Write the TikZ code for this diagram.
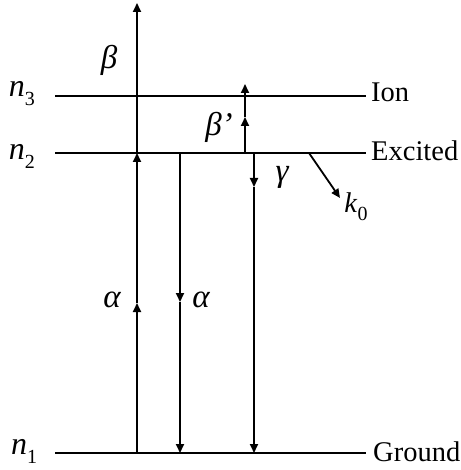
\documentclass[tikz,border=0pt]{standalone}
\usepackage{fontspec}
\setmainfont{Liberation Serif}
\usetikzlibrary{arrows.meta}
\newcommand\lvsub[1]{\raisebox{-0.28em}{\fontsize{20}{20}\selectfont #1}}
\tikzset{
  level/.style={line width=1.1pt},
  trans/.style={line width=1.8pt,-{Triangle[length=9pt,width=8pt]}},
  lbl/.style={inner sep=0pt,font=\fontsize{28.5}{30}\selectfont},
  nlbl/.style={inner sep=0pt,font=\fontsize{32}{34}\selectfont},
  grk/.style={inner sep=0pt,font=\fontsize{33}{34}\selectfont\itshape},
}
\begin{document}
\begin{tikzpicture}[x=1pt,y=-1pt]
\useasboundingbox (0,0) rectangle (460,470);
% levels
\coordinate (n3l) at (55,96);  \coordinate (n3r) at (366,96);
\coordinate (n2l) at (55,153); \coordinate (n2r) at (366,153);
\coordinate (n1l) at (55,453); \coordinate (n1r) at (366,453);
\draw[level] (n3l) -- (n3r);
\draw[level] (n2l) -- (n2r);
\draw[level] (n1l) -- (n1r);
% labels of levels
\node[nlbl] (ln3) at (22,94) {\textit{n}\lvsub{3}};
\node[nlbl] (ln2) at (22,156) {\textit{n}\lvsub{2}};
\node[nlbl] (ln1) at (24,451) {\textit{n}\lvsub{1}};
\node[lbl,anchor=base west] (ion) at (371,102) {Ion};
\node[lbl,anchor=base west] (exc) at (371,161) {Excited};
\node[lbl,anchor=base west] (gnd) at (373,461) {Ground};
% arrow 1: alpha up then beta up
\coordinate (a1b) at (137,453);
\coordinate (a1m) at (137,303);
\coordinate (a1n) at (137,153);
\coordinate (a1t) at (137,3);
\draw[trans] (a1b) -- (a1m);
\draw[trans] (a1m) -- (a1n);
\draw[trans] (a1n) -- (a1t);
% arrow 2: alpha down
\coordinate (a2t) at (180,153);
\coordinate (a2m) at (180,302);
\coordinate (a2b) at (180,453);
\draw[trans] (a2t) -- (a2m);
\draw[trans] (a2m) -- (a2b);
% arrow 3: beta' up
\coordinate (a3b) at (245,153);
\coordinate (a3m) at (245,117);
\coordinate (a3t) at (245,84);
\draw[trans] (a3b) -- (a3m);
\draw[trans] (a3m) -- (a3t);
% arrow 4: gamma down
\coordinate (a4t) at (254,153);
\coordinate (a4m) at (254,187);
\coordinate (a4b) at (254,453);
\draw[trans] (a4t) -- (a4m);
\draw[trans] (a4m) -- (a4b);
% k0
\coordinate (k0s) at (309,153);
\coordinate (k0e) at (340,198);
\draw[trans] (k0s) -- (k0e);
% transition labels
\node[grk] (lb) at (109,60) {β};
\node[grk] (lbp) at (219,127) {β’};
\node[grk] (lg) at (282,177) {γ};
\node[lbl] (lk) at (356,207) {\textit{k}\lvsub{0}};
\node[grk] (la1) at (112,300) {α};
\node[grk] (la2) at (201,300) {α};
\end{tikzpicture}
\end{document}
